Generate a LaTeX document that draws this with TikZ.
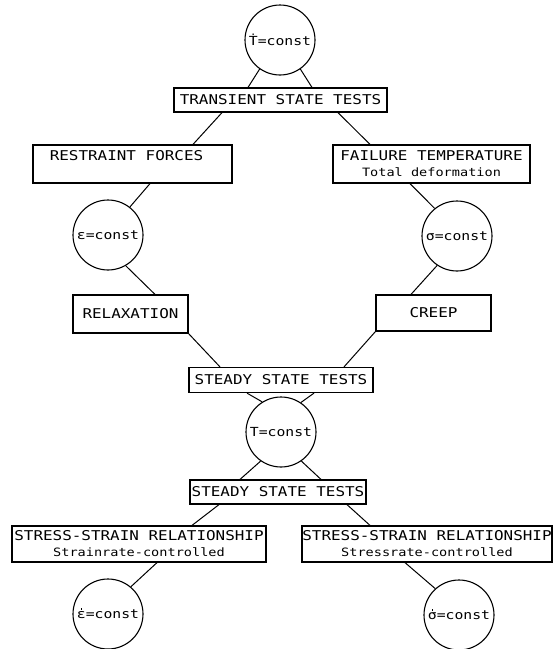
\documentclass[tikz,border=0pt]{standalone}
\usepackage{fontspec}
\newfontfamily\lett[FakeStretch=1.18]{DejaVu Sans Mono}
\newcommand\dotover[2]{\leavevmode\ooalign{#1\cr\hidewidth\raisebox{#2}{\rule{1.6pt}{1.6pt}}\hidewidth\cr}}
\newcommand\lowtxt{\fontsize{11.5}{13}\selectfont}
\tikzset{
  circ/.style={draw, circle, minimum size=70pt, inner sep=0pt, line width=1.1pt,
    font=\lett\fontsize{12.5}{14}\selectfont},
  tbox/.style={draw, rectangle, inner sep=0pt, line width=1.2pt, align=center,
    font=\lett\fontsize{13.5}{16}\selectfont},
  conn/.style={line width=1pt},
}
\begin{document}
\begin{tikzpicture}[x=1pt,y=-1pt]
\useasboundingbox (0,0) rectangle (553,649);
% circles
\node[circ] (c1) at (280,40) {Ṫ=const};
\node[circ] (c2) at (108,235) {ε=const};
\node[circ] (c3) at (457,236) {σ=const};
\node[circ] (c4) at (281,432) {T=const};
\node[circ] (c5) at (108,614) {\dotover{ε}{0.68em}=const};
\node[circ] (c6) at (459,615) {\dotover{σ}{0.68em}=const};
% boxes
\node[tbox, minimum width=213pt, minimum height=24pt] (b1) at (280.5,100) {TRANSIENT STATE TESTS};
\node[tbox, minimum width=199pt, minimum height=38pt] (b2) at (132.5,164) {RESTRAINT FORCES\hspace*{12pt}\\{\lowtxt\phantom{Total deformation}}};
\node[tbox, minimum width=197pt, minimum height=38pt] (b3) at (431.5,164) {FAILURE TEMPERATURE\\{\lowtxt Total deformation}};
\node[tbox, minimum width=115pt, minimum height=38pt] (b4) at (130.5,314) {RELAXATION};
\node[tbox, minimum width=115pt, minimum height=36pt] (b5) at (433.5,313) {CREEP};
\node[tbox, minimum width=184pt, minimum height=25pt] (b6) at (281,380) {STEADY STATE TESTS};
\node[tbox, minimum width=176pt, minimum height=24pt] (b7) at (278,492) {STEADY STATE TESTS};
\node[tbox, minimum width=254pt, minimum height=36pt] (b8) at (139,544) {STRESS-STRAIN RELATIONSHIP\\{\lowtxt Strainrate-controlled}};
\node[tbox, minimum width=250pt, minimum height=36pt] (b9) at (427,544) {STRESS-STRAIN RELATIONSHIP\\{\lowtxt Stressrate-controlled}};
% connectors
\draw[conn] (c1.235) -- ([xshift=-32.5pt]b1.north);
\draw[conn] (c1.305) -- ([xshift=31.5pt]b1.north);
\draw[conn] ([xshift=-58.5pt]b1.south) -- ([xshift=60.5pt]b2.north);
\draw[conn] ([xshift=57.5pt]b1.south) -- ([xshift=-61.5pt]b3.north);
\draw[conn] ([xshift=17.5pt]b2.south) -- (c2.52);
\draw[conn] ([xshift=-21.5pt]b3.south) -- (c3.129);
\draw[conn] (c2.300) -- ([xshift=24.5pt]b4.north);
\draw[conn] (c3.236) -- ([xshift=-22.5pt]b5.north);
\draw[conn] (b4.south east) -- ([xshift=-61pt]b6.north);
\draw[conn] (b5.south west) -- ([xshift=63pt]b6.north);
\draw[conn] ([xshift=-34pt]b6.south) -- (c4.122);
\draw[conn] ([xshift=33pt]b6.south) -- (c4.56);
\draw[conn] (c4.235) -- ([xshift=-38pt]b7.north);
\draw[conn] (c4.305) -- ([xshift=43pt]b7.north);
\draw[conn] ([xshift=-59pt]b7.south) -- ([xshift=53pt]b8.north);
\draw[conn] ([xshift=69pt]b7.south) -- ([xshift=-57pt]b9.north);
\draw[conn] ([xshift=18pt]b8.south) -- (c5.50);
\draw[conn] ([xshift=-22pt]b9.south) -- (c6.132);
\end{tikzpicture}
\end{document}
